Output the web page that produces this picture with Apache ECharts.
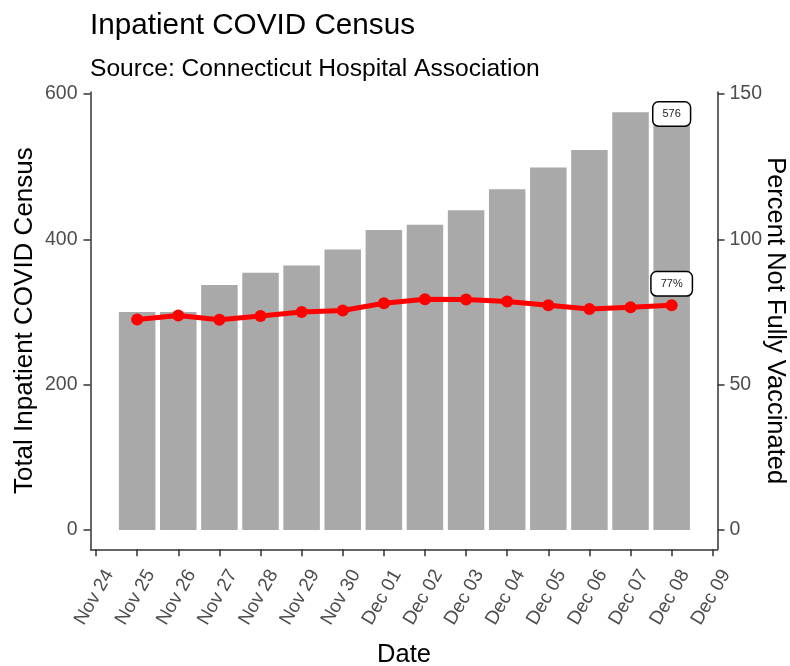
<!DOCTYPE html>
<html>
<head>
<meta charset="utf-8">
<title>Inpatient COVID Census</title>
<script src="https://cdn.jsdelivr.net/npm/echarts@6/dist/echarts.min.js"></script>
<style>
  html, body { margin: 0; padding: 0; background: #fff; }
  #chart { width: 790px; height: 666px; }
</style>
</head>
<body>
<div id="chart"></div>
<script>
// data
var dates = ["2021-11-25", "2021-11-26", "2021-11-27", "2021-11-28", "2021-11-29", "2021-11-30",
  "2021-12-01", "2021-12-02", "2021-12-03", "2021-12-04", "2021-12-05", "2021-12-06",
  "2021-12-07", "2021-12-08"];
var census = [300, 300, 337, 354, 364, 386, 413, 420, 440, 469, 499, 523, 575, 576];
var pctNotVax = [72.4, 73.8, 72.3, 73.6, 75.0, 75.5, 78.0, 79.4, 79.3, 78.6, 77.3, 76.0, 76.6, 77.3];
var leftTicks = [0, 200, 400, 600];
var rightTicks = [0, 50, 100, 150];
var xStart = "2021-11-24";
var xEnd = "2021-12-09";

var months = ["Jan", "Feb", "Mar", "Apr", "May", "Jun", "Jul", "Aug", "Sep", "Oct", "Nov", "Dec"];
var DAY = 86400000;
var FONT = "Liberation Sans, Arial, sans-serif";
var AXIS = "#333";
var TICKTXT = "#4d4d4d";

function ts(s) {
  var p = s.split("-");
  return new Date(+p[0], +p[1] - 1, +p[2]).getTime();
}

// plot box
var gridLeft = 90.5, gridRight = 72.5;
var barW = 36.5;
// echarts widens a bar axis so the end bars fit; shrink the range first so the final one is right
var xMin = ts(xStart) - 0.135 * DAY;
var xMax = ts(xEnd) + 0.115 * DAY;
var axisLen = 790 - gridLeft - gridRight;
var shrink = (xMax - xMin) * (barW / axisLen) / 2;

var last = dates.length - 1;
var boxLabel = {
  show: true,
  position: "top",
  backgroundColor: "#fff",
  borderColor: "#000",
  borderWidth: 1.5,
  borderRadius: 5,
  padding: [6, 9],
  fontSize: 11,
  color: "#222",
  fontFamily: FONT
};

var barData = dates.map(function (d, i) {
  var item = { value: [ts(d), census[i]] };
  if (i === last) {
    item.label = Object.assign({}, boxLabel, { offset: [0, 19], formatter: "{@[1]}" });
  }
  return item;
});
var lineData = dates.map(function (d, i) {
  var item = { value: [ts(d), pctNotVax[i]] };
  if (i === last) {
    item.label = Object.assign({}, boxLabel, {
      distance: 4,
      formatter: function (p) { return Math.round(p.value[1]) + "%"; }
    });
  }
  return item;
});

var chart = echarts.init(document.getElementById("chart"));
chart.setOption({
  animation: false,
  textStyle: { fontFamily: FONT },
  title: [
    { text: "Inpatient COVID Census", left: 85, top: 6,
      textStyle: { fontSize: 29.7, fontWeight: "normal", color: "#000", fontFamily: FONT } },
    { text: "Source: Connecticut Hospital Association", left: 85, top: 52,
      textStyle: { fontSize: 24.6, fontWeight: "normal", color: "#000", fontFamily: FONT } }
  ],
  grid: { left: gridLeft, right: gridRight, top: 92, bottom: 116.7, outerBoundsMode: "none", containLabel: false },
  xAxis: {
    type: "time",
    min: xMin + shrink,
    max: xMax - shrink,
    minInterval: DAY,
    maxInterval: DAY,
    name: "Date",
    nameLocation: "middle",
    nameGap: 93,
    nameMoveOverlap: false,
    nameTextStyle: { fontSize: 25.5, color: "#000", fontFamily: FONT },
    axisLine: { show: true, onZero: false, lineStyle: { color: AXIS, width: 1.5 } },
    axisTick: { show: true, length: 7, lineStyle: { color: AXIS, width: 1.5 } },
    axisLabel: {
      rotate: 60,
      margin: 8,
      verticalAlign: "top",
      padding: [9, 5.5, 0, 0],
      fontSize: 19,
      color: TICKTXT,
      fontFamily: FONT,
      formatter: function (v) {
        var d = new Date(v);
        var dd = d.getDate();
        return months[d.getMonth()] + " " + (dd < 10 ? "0" + dd : dd);
      }
    },
    splitLine: { show: false }
  },
  yAxis: [
    {
      type: "value",
      min: -26.6,
      max: 602.8,
      name: "Total Inpatient COVID Census",
      nameLocation: "middle",
      nameGap: 53,
      nameMoveOverlap: false,
      nameTextStyle: { fontSize: 26, color: "#000", fontFamily: FONT },
      axisLine: { show: true, lineStyle: { color: AXIS, width: 1.5 } },
      axisTick: { show: true, length: 7, customValues: leftTicks, lineStyle: { color: AXIS, width: 1.5 } },
      axisLabel: { customValues: leftTicks, margin: 13, fontSize: 19.5, color: TICKTXT, fontFamily: FONT },
      splitLine: { show: false }
    },
    {
      type: "value",
      position: "right",
      min: -6.65,
      max: 150.7,
      name: "Percent Not Fully Vaccinated",
      nameLocation: "middle",
      nameRotate: -90,
      nameGap: 45,
      nameMoveOverlap: false,
      nameTextStyle: { fontSize: 25.5, color: "#000", fontFamily: FONT },
      axisLine: { show: true, lineStyle: { color: AXIS, width: 1.5 } },
      axisTick: { show: true, length: 7, customValues: rightTicks, lineStyle: { color: AXIS, width: 1.5 } },
      axisLabel: { customValues: rightTicks, margin: 12, fontSize: 19.5, color: TICKTXT, fontFamily: FONT },
      splitLine: { show: false }
    }
  ],
  series: [
    {
      name: "Total Inpatient COVID Census",
      type: "bar",
      yAxisIndex: 0,
      barWidth: barW,
      itemStyle: { color: "#a9a9a9" },
      data: barData
    },
    {
      name: "Percent Not Fully Vaccinated",
      type: "line",
      yAxisIndex: 1,
      symbol: "circle",
      symbolSize: 12,
      lineStyle: { color: "#ff0000", width: 5 },
      itemStyle: { color: "#ff0000" },
      z: 3,
      data: lineData
    }
  ]
});
</script>
</body>
</html>
